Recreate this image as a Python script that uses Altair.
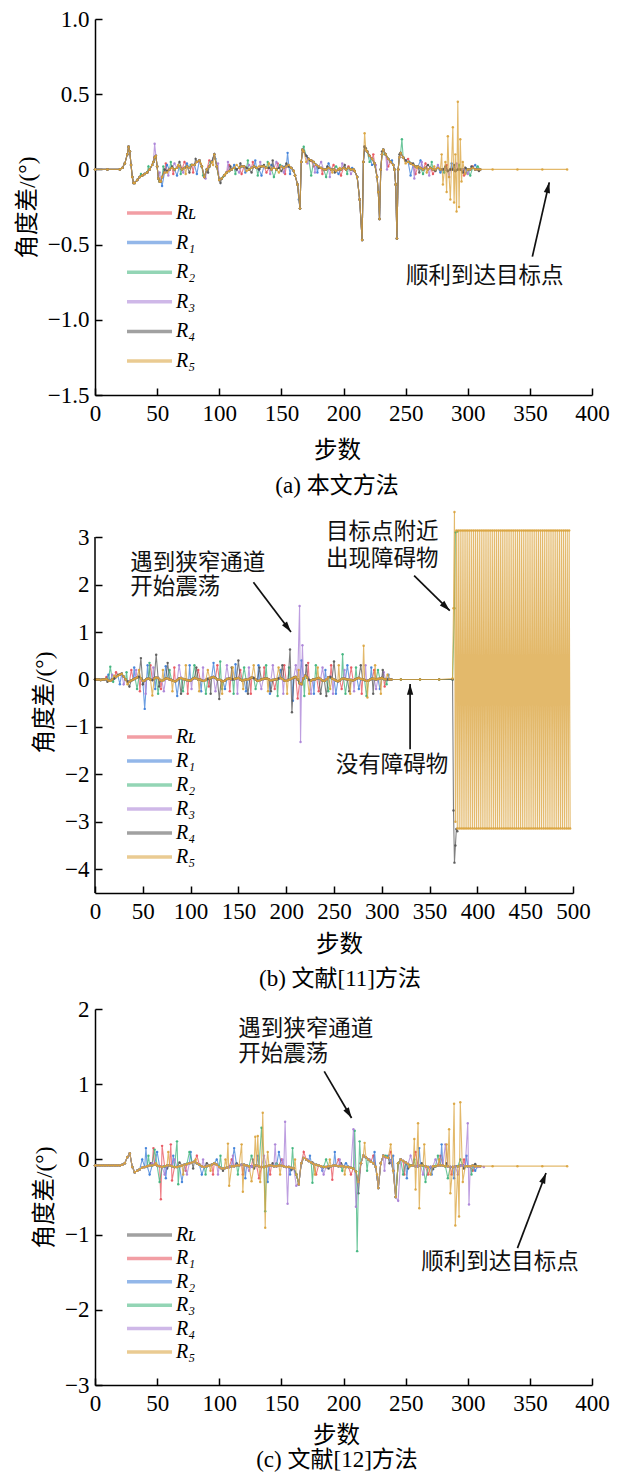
import altair as alt
import pandas as pd

# ---------------- legend labels / colours ----------------
LABELS = ["Rʟ", "R₁", "R₂", "R₃", "R₄", "R₅"]
COLORS_AB = ["#e8505b", "#3b7dd8", "#3bb37a", "#a87fd6", "#555555", "#d9a23a"]
COLORS_C = ["#555555", "#e8505b", "#3b7dd8", "#3bb37a", "#a87fd6", "#d9a23a"]

# ---------------- panel (a) ----------------
A_BX = [0, 10, 20, 22, 24, 26, 27, 28, 29, 30,
        31, 32, 34, 36, 38, 40, 42, 44, 46, 47,
        48, 49, 50, 51, 52, 53, 54, 56, 58, 60,
        62, 64, 66, 68, 70, 72, 74, 76, 78, 80,
        82, 84, 86, 88, 90, 92, 94, 96, 98, 100,
        102, 104, 106, 108, 110, 112, 114, 116, 118, 120,
        122, 124, 126, 128, 130, 132, 134, 136, 138, 140,
        142, 144, 146, 148, 150, 152, 154, 156, 158, 160,
        161, 163, 165, 166, 167, 168, 170, 172, 174, 176,
        178, 180, 182, 184, 186, 188, 190, 192, 194, 196,
        198, 200, 202, 204, 206, 208, 209, 211, 213, 215,
        216, 217, 218, 219, 221, 223, 225, 227, 228, 229,
        230, 231, 232, 234, 236, 238, 240, 241, 242, 243,
        244, 245, 246, 248, 250, 252, 254, 256, 258, 260,
        262, 264, 266, 268, 270, 272, 274, 276, 278, 280,
        282, 284, 286, 288, 290, 292, 294, 296, 298, 300,
        302, 304, 306, 308, 310]
A_BY = [0, 0, 0, 0.01, 0.04, 0.1, 0.15, 0.12, 0.03, -0.05,
        -0.09, -0.09, -0.07, -0.05, -0.04, -0.03, -0.02, 0.0, 0.03, 0.05,
        0.08, 0.09, 0.02, -0.06, -0.08, -0.08, -0.05, -0.02, -0.01, 0.0,
        0.01, 0.0, 0.01, 0.02, 0.0, 0.01, 0.02, 0.01, 0.03, 0.03,
        0.05, 0.06, 0.02, -0.05, 0.0, 0.02, 0.05, 0.1, 0.02, -0.07,
        -0.06, -0.04, -0.02, -0.01, 0.0, 0.01, 0.0, 0.01, 0.02, 0.02,
        0.01, 0.0, 0.01, 0.02, 0.01, 0.0, 0.02, 0.02, 0.01, 0.01,
        0.0, 0.01, 0.0, 0.01, 0.02, 0.01, 0.02, 0.02, 0.01, -0.01,
        -0.04, -0.1, -0.26, 0.05, 0.13, 0.12, 0.09, 0.07, 0.06, 0.05,
        0.03, 0.02, 0.01, 0.0, 0.0, 0.01, 0.0, 0.0, -0.01, 0.0,
        0.0, 0.01, 0.0, 0.01, 0.0, 0.0, -0.01, -0.05, -0.2, -0.47,
        0.05, 0.15, 0.13, 0.12, 0.09, 0.07, 0.04, -0.05, -0.15, -0.33,
        0.0, 0.1, 0.13, 0.1, 0.07, 0.05, 0.03, 0.0, -0.1, -0.46,
        0.0, 0.08, 0.11, 0.08, 0.06, 0.05, 0.04, 0.03, 0.02, 0.02,
        0.01, 0.0, 0.01, 0.0, 0.01, 0.0, 0.0, 0.01, 0.0, 0.0,
        0.0, -0.01, 0.0, 0.0, -0.01, 0.0, 0.0, 0.0, 0.01, 0.0,
        0.0, 0.01, 0.0, 0.0, 0.0]

A_RL_X = [57, 63, 72, 79, 92, 108, 118, 127, 138, 147, 153, 176, 183, 192, 198, 204, 224, 236, 252, 258, 266, 272, 283, 297, 304]
A_RL_Y = [0.04, -0.03, 0.05, -0.02, 0.06, 0.03, -0.03, 0.05, -0.02, 0.04, -0.03, 0.02, -0.03, 0.03, -0.04, 0.02, 0.1, 0.02, 0.07, -0.03, 0.04, -0.03, 0.03, -0.04, 0.02]
A_R1_X = [54, 58, 66, 74, 82, 97, 104, 112, 121, 129, 134, 142, 151, 155, 157, 164, 179, 188, 196, 207, 223, 239, 254, 262, 278, 287, 299, 306]
A_R1_Y = [-0.11, 0.03, -0.04, 0.04, -0.03, 0.07, -0.04, 0.03, -0.02, 0.06, -0.04, 0.03, 0.02, 0.11, -0.03, -0.2, -0.02, 0.04, -0.03, 0.01, 0.03, 0.06, -0.04, 0.06, -0.02, 0.04, -0.02, 0.03]
A_R2_X = [37, 43, 55, 61, 69, 77, 87, 93, 103, 113, 123, 131, 139, 144, 149, 168, 174, 186, 194, 203, 221, 233, 247, 253, 264, 271, 281, 293, 302, 308]
A_R2_Y = [-0.03, 0.02, 0.02, 0.05, -0.03, 0.03, -0.04, 0.05, -0.05, -0.03, 0.06, -0.04, 0.05, -0.05, 0.03, 0.15, -0.04, -0.05, 0.02, -0.03, 0.05, 0.1, 0.2, 0.05, -0.03, 0.05, -0.02, 0.03, -0.04, 0.02]
A_R3_X = [48, 52, 59, 64, 71, 83, 89, 99, 107, 116, 124, 133, 141, 146, 152, 171, 177, 182, 189, 199, 206, 226, 235, 257, 263, 269, 276, 285, 291, 300, 307]
A_R3_Y = [0.17, -0.02, -0.04, 0.04, -0.02, 0.05, -0.06, 0.04, 0.05, -0.02, 0.03, 0.05, -0.03, 0.05, -0.02, 0.04, -0.02, 0.05, -0.05, 0.04, -0.03, 0.03, 0.0, -0.06, 0.05, -0.04, 0.03, -0.05, 0.04, -0.03, 0.0]
A_R4_X = [56, 62, 68, 76, 81, 91, 101, 109, 117, 126, 136, 143, 150, 154, 173, 180, 187, 193, 201, 218, 231, 245, 256, 261, 268, 274, 282, 289, 296, 303, 309]
A_R4_Y = [0.0, 0.02, 0.05, -0.02, 0.07, -0.02, -0.09, 0.02, 0.04, -0.02, 0.03, 0.06, -0.01, 0.04, 0.06, 0.01, 0.02, -0.02, 0.03, 0.14, 0.12, 0.1, 0.04, -0.02, 0.03, -0.01, 0.02, 0.03, -0.02, 0.02, -0.01]
A_R5_X = [58, 67, 73, 85, 95, 105, 114, 122, 132, 140, 148, 156, 170, 184, 191, 197, 217, 250, 259, 267,
          273, 279, 280, 282, 283, 284, 285, 286, 288, 289, 290, 291, 292, 293, 294, 295, 296, 298]
A_R5_Y = [-0.02, 0.03, -0.03, 0.04, 0.03, -0.03, 0.03, -0.01, 0.02, 0.04, -0.02, 0.03, 0.05, 0.0, -0.02, 0.01, 0.24, 0.04, 0.01, -0.02,
          0.02, 0.1, -0.1, 0.05, -0.15, 0.22, -0.05, -0.2, 0.28, -0.22, 0.1, -0.28, 0.45, -0.25, 0.2, -0.08, 0.05, -0.03]
A_R5_TX = [320, 340, 360, 380]
A_R5_TY = [0.0, 0.0, 0.0, 0.0]

# ---------------- panel (b) ----------------
B_BX = list(range(0, 311, 2))
B_BY = [0, 0, 0, -0.01, 0, 0, 0.01, -0.02, -0.03, 0.0,
        0.02, 0.05, 0.08, 0.1, 0.12, 0.06, 0.0, -0.04, -0.05, -0.02,
        0.0, 0.02, 0.04, 0.05, 0.02, -0.03, -0.02, 0.01, 0.02, 0.0,
        -0.01, 0.02, 0.04, 0.03, -0.01, -0.03, -0.01, 0.02, 0.02, 0.0,
        -0.01, -0.03, -0.04, -0.01, 0.02, 0.03, 0.01, 0.0, -0.01, -0.02,
        -0.02, 0.01, 0.03, 0.02, 0.0, 0.0, -0.02, -0.03, -0.01, 0.01,
        0.02, 0.04, 0.05, 0.03, 0.0, 0.0, -0.02, -0.04, -0.02, 0.01,
        0.02, 0.01, 0.0, 0.01, 0.02, 0.03, 0.0, -0.02, -0.01, 0.0,
        0.0, 0.02, 0.04, 0.03, 0.0, -0.03, -0.02, 0.0, 0.01, 0.02,
        0.02, 0.0, -0.02, -0.01, 0.0, 0.0, 0.02, 0.03, 0.01, -0.02,
        -0.03, -0.01, 0.0, 0.02, 0.04, 0.05, 0.0, -0.08, -0.1, 0.02,
        0.08, 0.04, -0.01, -0.02, 0.0, 0.0, 0.02, 0.03, 0.01, -0.02,
        -0.03, 0.0, 0.04, 0.05, 0.02, 0.0, -0.02, -0.04, -0.02, 0.01,
        0.02, 0.01, 0.0, 0.0, -0.01, -0.02, 0.0, 0.02, 0.03, 0.01,
        0.0, -0.01, -0.03, -0.02, 0.0, 0.02, 0.01, 0.0, 0.01, 0.02,
        0.03, 0.01, 0.0, 0.0, 0.0, 0.0]

B_RL_X = [12, 22, 38, 47, 58, 69, 83, 97, 108, 119, 128, 141, 152, 163, 177, 188, 198, 212, 223, 234, 247, 258, 268, 279, 292, 303]
B_RL_Y = [0.05, 0.15, 0.2, -0.25, 0.3, -0.2, 0.25, -0.3, 0.2, -0.15, 0.3, -0.25, 0.2, -0.3, 0.25, -0.2, 0.3, -0.4, 0.35, -0.25, 0.3, -0.2, 0.25, -0.3, 0.2, -0.15]
B_R1_X = [14, 26, 41, 52, 55, 63, 74, 86, 99, 111, 124, 136, 147, 158, 171, 183, 194, 207, 216, 229, 241, 252, 264, 276, 289, 298, 307]
B_R1_Y = [0.1, -0.1, 0.25, -0.62, 0.3, -0.2, 0.28, -0.35, 0.3, -0.25, 0.35, -0.2, 0.32, -0.25, 0.3, -0.3, 0.2, -0.45, 0.4, -0.3, 0.2, -0.3, 0.3, -0.2, 0.25, -0.2, 0.1]
B_R2_X = [16, 19, 33, 44, 57, 66, 78, 92, 104, 116, 131, 133, 145, 156, 168, 179, 191, 203, 219, 231, 244, 259, 262, 273, 284, 296, 305]
B_R2_Y = [0.27, -0.05, 0.15, -0.2, 0.35, -0.3, 0.2, -0.25, 0.3, -0.3, 0.38, -0.2, -0.3, 0.25, -0.2, 0.3, -0.35, 0.25, -0.35, 0.3, -0.25, 0.53, -0.3, 0.25, -0.35, 0.2, -0.1]
B_R2_TX = [320, 340, 360, 374, 376, 377, 379]
B_R2_TY = [0.0, 0.0, 0.0, 0.0, 1.5, 3.1, 3.12]
B_R3_X = [18, 30, 43, 53, 61, 72, 88, 101, 113, 126, 138, 149, 161, 174, 186, 197, 210, 214, 215, 217, 226, 238, 249, 261, 271, 283, 294, 302]
B_R3_Y = [0.1, -0.1, 0.2, -0.3, 0.25, -0.25, 0.3, -0.2, 0.25, -0.25, 0.3, -0.3, 0.25, -0.2, 0.3, -0.3, 0.3, 1.55, -1.32, 0.72, -0.3, 0.25, -0.3, 0.2, -0.25, 0.3, -0.2, 0.15]
B_R4_X = [13, 24, 36, 48, 50, 64, 67, 76, 90, 106, 121, 130, 143, 150, 160, 172, 184, 196, 204, 206, 221, 236, 242, 250, 266, 278, 291, 301]
B_R4_Y = [-0.05, 0.1, -0.15, 0.45, -0.1, 0.52, -0.15, 0.35, -0.3, 0.25, -0.3, -0.41, 0.25, 0.4, -0.3, 0.25, -0.25, 0.3, 0.63, -0.69, 0.3, -0.3, -0.35, 0.38, -0.25, 0.3, -0.3, 0.2]
B_R4_TX = [320, 340, 360, 374, 375, 376, 377, 378, 379]
B_R4_TY = [0.0, 0.0, 0.0, 0.0, -2.76, -3.86, -3.5, -3.15, -3.2]
B_R5_X = [20, 34, 46, 60, 71, 81, 95, 109, 118, 133, 144, 155, 166, 181, 192, 201, 213, 224, 233, 246, 255, 267, 281, 285, 293, 299, 306]
B_R5_Y = [0.08, -0.1, 0.2, -0.34, 0.2, -0.25, 0.3, -0.25, 0.2, -0.3, 0.25, -0.2, 0.3, -0.25, 0.25, -0.3, 0.2, -0.3, 0.25, -0.2, 0.3, -0.3, 0.71, -0.38, 0.3, -0.3, 0.1]
B_R5_TX = [320, 340, 360, 374, 375, 376, 377] + list(range(378, 498))
B_R5_TY = [0.0, 0.0, 0.0, 0.02, 1.5, 3.53, -3.0,
           3.14, -3.14, 3.14, -3.14, 3.14, -3.14, 3.14, -3.14, 3.14, -3.14,
           3.14, -3.14, 3.14, -3.14, 3.14, -3.14, 3.14, -3.14, 3.14, -3.14,
           3.14, -3.14, 3.14, -3.14, 3.14, -3.14, 3.14, -3.14, 3.14, -3.14,
           3.14, -3.14, 3.14, -3.14, 3.14, -3.14, 3.14, -3.14, 3.14, -3.14,
           3.14, -3.14, 3.14, -3.14, 3.14, -3.14, 3.14, -3.14, 3.14, -3.14,
           3.14, -3.14, 3.14, -3.14, 3.14, -3.14, 3.14, -3.14, 3.14, -3.14,
           3.14, -3.14, 3.14, -3.14, 3.14, -3.14, 3.14, -3.14, 3.14, -3.14,
           3.14, -3.14, 3.14, -3.14, 3.14, -3.14, 3.14, -3.14, 3.14, -3.14,
           3.14, -3.14, 3.14, -3.14, 3.14, -3.14, 3.14, -3.14, 3.14, -3.14,
           3.14, -3.14, 3.14, -3.14, 3.14, -3.14, 3.14, -3.14, 3.14, -3.14,
           3.14, -3.14, 3.14, -3.14, 3.14, -3.14, 3.14, -3.14, 3.14, -3.14,
           3.14, -3.14, 3.14, -3.14, 3.14, -3.14, 3.14, -3.14, 3.14, -3.14]

# ---------------- panel (c) ----------------
C_BX = list(range(0, 311, 2))
C_BY = [-0.08, -0.08, -0.08, -0.08, -0.08, -0.08, -0.08, -0.08, -0.08, -0.08,
        -0.08, -0.07, -0.05, 0.03, 0.08, -0.1, -0.17, -0.15, -0.13, -0.11,
        -0.1, -0.09, -0.08, -0.08, -0.07, -0.08, -0.09, -0.1, -0.09, -0.08,
        -0.08, -0.09, -0.1, -0.1, -0.09, -0.08, -0.07, -0.06, -0.05, -0.04,
        -0.03, -0.05, -0.07, -0.09, -0.1, -0.09, -0.08, -0.07, -0.05, -0.07,
        -0.1, -0.12, -0.12, -0.11, -0.1, -0.09, -0.09, -0.08, -0.08, -0.07,
        -0.07, -0.08, -0.09, -0.09, -0.08, -0.08, -0.09, -0.1, -0.1, -0.09,
        -0.08, -0.08, -0.09, -0.09, -0.08, -0.08, -0.09, -0.1, -0.1, -0.11,
        -0.12, -0.2, -0.33, -0.05, 0.02, 0.0, -0.02, -0.04, -0.06, -0.07,
        -0.08, -0.09, -0.1, -0.1, -0.09, -0.09, -0.08, -0.08, -0.09, -0.09,
        -0.09, -0.1, -0.1, -0.11, -0.12, -0.16, -0.3, -0.05, 0.05, 0.03,
        0.0, -0.03, -0.05, -0.1, -0.38, -0.05, 0.05, 0.03, 0.02, -0.02,
        -0.15, -0.5, -0.05, 0.0, -0.02, -0.04, -0.06, -0.08, -0.08, -0.09,
        -0.09, -0.08, -0.08, -0.09, -0.1, -0.1, -0.09, -0.09, -0.08, -0.08,
        -0.08, -0.09, -0.09, -0.1, -0.1, -0.09, -0.09, -0.08, -0.08, -0.09,
        -0.09, -0.09, -0.08, -0.09, -0.09, -0.09]

C_RL_X = [45, 58, 68, 79, 90, 103, 114, 128, 143, 158, 175, 188, 198, 212, 222, 237, 252, 263, 272, 283, 297, 306]
C_RL_Y = [-0.05, -0.12, -0.04, -0.12, -0.05, -0.15, -0.05, -0.12, -0.05, -0.14, -0.04, -0.12, -0.05, -0.45, -0.02, -0.05, -0.12, -0.05, -0.13, -0.05, -0.12, -0.06]
C_R1_X = [47, 53, 54, 61, 62, 73, 82, 95, 110, 119, 127, 132, 141, 150, 168, 178, 191, 196, 206, 224, 238, 249, 258, 268, 278, 287, 297, 304]
C_R1_Y = [0.15, -0.53, 0.18, 0.2, -0.28, -0.15, 0.05, -0.2, 0.0, -0.2, 0.0, -0.25, -0.2, 0.0, 0.1, -0.2, -0.27, 0.0, -0.2, 0.05, 0.1, -0.2, 0.1, -0.2, 0.05, -0.2, 0.0, -0.15]
C_R2_X = [38, 41, 44, 50, 57, 63, 70, 77, 86, 98, 112, 121, 131, 139, 148, 157, 173, 183, 193, 202, 225, 236, 240, 251, 261, 271, 279, 289, 299, 306]
C_R2_Y = [0.0, 0.15, -0.2, 0.1, -0.25, 0.05, -0.3, 0.1, -0.2, 0.0, 0.15, -0.25, 0.05, -0.3, 0.1, -0.2, 0.05, -0.15, 0.1, -0.05, 0.1, 0.05, 0.05, -0.25, 0.15, -0.2, 0.2, -0.25, 0.05, -0.15]
C_R3_X = [43, 48, 52, 66, 67, 76, 89, 101, 115, 126, 134, 137, 146, 159, 175, 186, 199, 209, 211, 213, 219, 234, 248, 257, 266, 276, 284, 294, 303]
C_R3_Y = [0.05, 0.13, -0.3, 0.24, -0.33, 0.1, -0.2, 0.05, -0.2, 0.05, 0.42, -0.69, -0.05, 0.15, -0.31, 0.0, -0.15, 0.38, -1.22, 0.24, -0.15, 0.05, -0.2, 0.0, -0.3, 0.05, -0.25, 0.0, -0.2]
C_R4_X = [46, 56, 64, 74, 87, 99, 111, 124, 136, 145, 151, 153, 155, 162, 171, 184, 197, 208, 210, 221, 233, 244, 254, 264, 274, 282, 292, 300, 301, 308, 313]
C_R4_Y = [-0.05, -0.2, 0.0, -0.2, 0.0, -0.2, 0.05, -0.15, 0.05, 0.2, 0.0, 0.5, -0.59, -0.35, 0.0, -0.2, 0.0, 0.4, -0.63, 0.0, -0.15, -0.55, 0.05, -0.2, 0.0, 0.2, -0.2, 0.48, -0.6, -0.1, -0.1]
C_R5_X = [49, 59, 71, 81, 93, 105, 107, 108, 118, 119, 126, 129, 131, 133, 135, 137, 139, 149, 161, 177,
          189, 201, 217, 227, 238, 253, 257, 258, 260, 261, 265, 270, 277, 283, 285, 286, 289, 290, 293, 294, 296]
C_R5_Y = [-0.05, 0.1, -0.2, 0.0, -0.15, 0.0, 0.21, -0.35, 0.2, -0.43, -0.29, 0.3, 0.31, -0.3, 0.62, -0.91, 0.1, -0.2, 0.0, -0.2,
          0.0, -0.2, 0.22, -0.2, 0.2, -0.1, 0.27, -0.4, 0.48, -0.65, 0.2, -0.2, 0.0, 0.2, 0.4, -0.45, 0.74, -0.88, -0.76, 0.76, -0.3]
C_R5_TX = [320, 340, 360, 380]
C_R5_TY = [-0.09, -0.09, -0.09, -0.09]

# ---------------- annotations (data coordinates) ----------------
A_TXT_C = ["顺利到达目标点"]; A_TXT_C_X = [313.6]; A_TXT_C_Y = [-0.71]
A_ARR = [(352.0, -0.58, 365.6, -0.086, 12.8)]
B_TXT_TOP = [("遇到狭窄通道\n开始震荡", 37.0, 2.68, "left", 24), ("目标点附近\n出现障碍物", 300.6, 3.34, "center", 27)]
B_TXT_C = ["没有障碍物"]; B_TXT_C_X = [310.8]; B_TXT_C_Y = [-1.8]
B_ARR = [(165.7, 2.05, 205.0, 1.0, 143.0), (333.8, 2.19, 371.1, 1.45, 134.4), (329.6, -1.47, 329.6, -0.095, 0.0)]
C_TXT_TOP = [("遇到狭窄通道\n开始震荡", 115.3, 1.88, "left", 25)]
C_TXT_C = ["顺利到达目标点"]; C_TXT_C_X = [325.9]; C_TXT_C_Y = [-1.36]
C_ARR = [(184.5, 1.17, 206.5, 0.55, 149.3), (340.0, -1.18, 363.0, -0.18, 21.0)]

SERIF = "Liberation Serif, Times New Roman, serif"
MIXED = "Liberation Serif, Noto Sans CJK SC"
CJK = "Noto Sans CJK SC"
ANN_SIZE = 22.5


def pts(bx, by, sx, sy, tx=(), ty=(), end=310):
    assert len(bx) == len(by) and len(sx) == len(sy) and len(tx) == len(ty), (len(bx), len(by), len(sx), len(sy))
    d = {x: y for x, y in zip(bx, by) if x <= end}
    d.update(zip(sx, sy))
    d.update(zip(tx, ty))
    return sorted(d.items())


def frame(bx, by, specs):
    rows = []
    for lab, sx, sy, tx, ty in specs:
        for x, y in pts(bx, by, sx, sy, tx, ty):
            rows.append({"s": lab, "step": x, "val": y})
    return pd.DataFrame(rows)


def panel(df, colors, xmax, ydom, yticks, yexpr, w, h, leg_y, row_pad, caption, cap_dx, cap_off,
          title_x, title_pad, top_texts, c_texts, arrows, ydomain_line=True, extra_rule=None):
    X = alt.X("step:Q", scale=alt.Scale(domain=[0, xmax], nice=False, zero=False),
              axis=alt.Axis(values=list(range(0, xmax + 1, 50)), title="步数",
                            tickSize=alt.ExprRef("-7"), labelPadding=14, titlePadding=title_pad,
                            titleX=title_x, labelFlush=False))
    Y = alt.Y("val:Q", scale=alt.Scale(domain=ydom, nice=False, zero=False),
              axis=alt.Axis(values=yticks, title="角度差/(°)", labelExpr=yexpr,
                            tickSize=alt.ExprRef("-7"), labelPadding=13, titlePadding=8,
                            domain=ydomain_line, labelFlush=False))
    color = alt.Color("s:N", scale=alt.Scale(domain=LABELS, range=colors),
                      legend=alt.Legend(orient="none", legendX=30, legendY=leg_y, title=None,
                                        symbolType="M-1,0H4", symbolSize=324, symbolStrokeWidth=3.5,
                                        symbolOpacity=0.55, labelFont=SERIF, labelFontStyle="italic",
                                        labelFontSize=20, labelColor="#000", labelOffset=29,
                                        rowPadding=row_pad, padding=0))
    base = alt.Chart(df)
    layers = []
    for lab in LABELS:
        layers.append(
            base.transform_filter(alt.datum.s == lab)
            .mark_line(strokeWidth=1.1, opacity=0.75,
                       point=alt.OverlayMarkDef(filled=True, size=6, opacity=0.9))
            .encode(x=X, y=Y, color=color, order="step:Q")
        )
    if extra_rule is not None:
        layers.append(alt.Chart(pd.DataFrame(extra_rule)).mark_rule(color="#000", strokeWidth=1.5)
                      .encode(x=X, y=Y, y2="val2:Q"))
    for t, xs, ys, al, lh in top_texts:
        tdf = pd.DataFrame({"step": [xs], "val": [ys], "t": [t]})
        layers.append(alt.Chart(tdf).mark_text(align=al, baseline="top", font=CJK, fontSize=ANN_SIZE,
                                               lineBreak="\n", lineHeight=lh, color="#111")
                      .encode(x=X, y=Y, text="t:N"))
    if c_texts[0]:
        tdf = pd.DataFrame({"step": c_texts[1], "val": c_texts[2], "t": c_texts[0]})
        layers.append(alt.Chart(tdf).mark_text(align="center", baseline="middle", font=CJK, fontSize=ANN_SIZE,
                                               color="#111").encode(x=X, y=Y, text="t:N"))
    adf = pd.DataFrame([{"step": a[0], "val": a[1], "step2": a[2], "val2": a[3]} for a in arrows])
    hdf = pd.DataFrame([{"step": a[2], "val": a[3], "ang": a[4]} for a in arrows])
    layers.append(alt.Chart(adf).mark_rule(color="#111", strokeWidth=1.7)
                  .encode(x=X, y=Y, x2="step2:Q", y2="val2:Q"))
    layers.append(alt.Chart(hdf).mark_point(shape="M0,0L0.5,1.7L-0.5,1.7Z", filled=True, size=160,
                                            color="#111", opacity=1)
                  .encode(x=X, y=Y, angle=alt.Angle("ang:Q", scale=None)))
    return alt.layer(*layers).properties(
        width=w, height=h,
        title=alt.TitleParams(caption, orient="bottom", offset=cap_off, dx=cap_dx, frame="group",
                              font=MIXED, fontSize=23, fontWeight="normal", color="#000"))


df_a = frame(A_BX, A_BY, [
    ("Rʟ", A_RL_X, A_RL_Y, [], []), ("R₁", A_R1_X, A_R1_Y, [], []), ("R₂", A_R2_X, A_R2_Y, [], []),
    ("R₃", A_R3_X, A_R3_Y, [], []), ("R₄", A_R4_X, A_R4_Y, [], []), ("R₅", A_R5_X, A_R5_Y, A_R5_TX, A_R5_TY)])
df_b = frame(B_BX, B_BY, [
    ("Rʟ", B_RL_X, B_RL_Y, [], []), ("R₁", B_R1_X, B_R1_Y, [], []), ("R₂", B_R2_X, B_R2_Y, B_R2_TX, B_R2_TY),
    ("R₃", B_R3_X, B_R3_Y, [], []), ("R₄", B_R4_X, B_R4_Y, B_R4_TX, B_R4_TY), ("R₅", B_R5_X, B_R5_Y, B_R5_TX, B_R5_TY)])
df_c = frame(C_BX, C_BY, [
    ("Rʟ", C_RL_X, C_RL_Y, [], []), ("R₁", C_R1_X, C_R1_Y, [], []), ("R₂", C_R2_X, C_R2_Y, [], []),
    ("R₃", C_R3_X, C_R3_Y, [], []), ("R₄", C_R4_X, C_R4_Y, [], []), ("R₅", C_R5_X, C_R5_Y, C_R5_TX, C_R5_TY)])

EXPR_1F = "datum.value == 0 ? '0' : format(datum.value, '.1f')"
EXPR_D = "format(datum.value, 'd')"

pa = panel(df_a, COLORS_AB, 400, [-1.5, 1.0], [-1.5, -1.0, -0.5, 0, 0.5, 1.0], EXPR_1F, 497, 376,
           183, 8.6, "(a) 本文方法", -6.5, 13.5, 242, 13, [], (A_TXT_C, A_TXT_C_X, A_TXT_C_Y), A_ARR)
pb = panel(df_b, COLORS_AB, 500, [-4.5, 3.55], [-4, -3, -2, -1, 0, 1, 2, 3], EXPR_D, 478, 382,
           215, 3.0, "(b) 文献[11]方法", 6, 12.7, 244, 9, B_TXT_TOP, (B_TXT_C, B_TXT_C_X, B_TXT_C_Y),
           B_ARR, ydomain_line=False, extra_rule={"step": [0], "val": [-4.5], "val2": [3.0]})
pc = panel(df_c, COLORS_C, 400, [-3, 2], [-3, -2, -1, 0, 1, 2], EXPR_D, 497, 376,
           215, 2.4, "(c) 文献[12]方法", -6.5, 2, 241, 8.5, C_TXT_TOP, (C_TXT_C, C_TXT_C_X, C_TXT_C_Y), C_ARR)

chart = (
    alt.vconcat(pa, pb, pc, spacing=116, bounds="flush")
    .resolve_scale(x="independent", y="independent", color="independent")
    .properties(padding={"left": 7, "top": 0, "right": 0, "bottom": 0})
    .configure_view(stroke=None)
    .configure_axis(labelFont=SERIF, labelFontSize=23, labelColor="#000", titleFont=MIXED,
                    titleFontSize=23.5, titleFontWeight="normal", titleColor="#000",
                    domainColor="#000", domainWidth=1.5, tickColor="#000", tickWidth=1.5, grid=False)
)

chart.save("out.html", embed_options={"renderer": "svg", "actions": False})
